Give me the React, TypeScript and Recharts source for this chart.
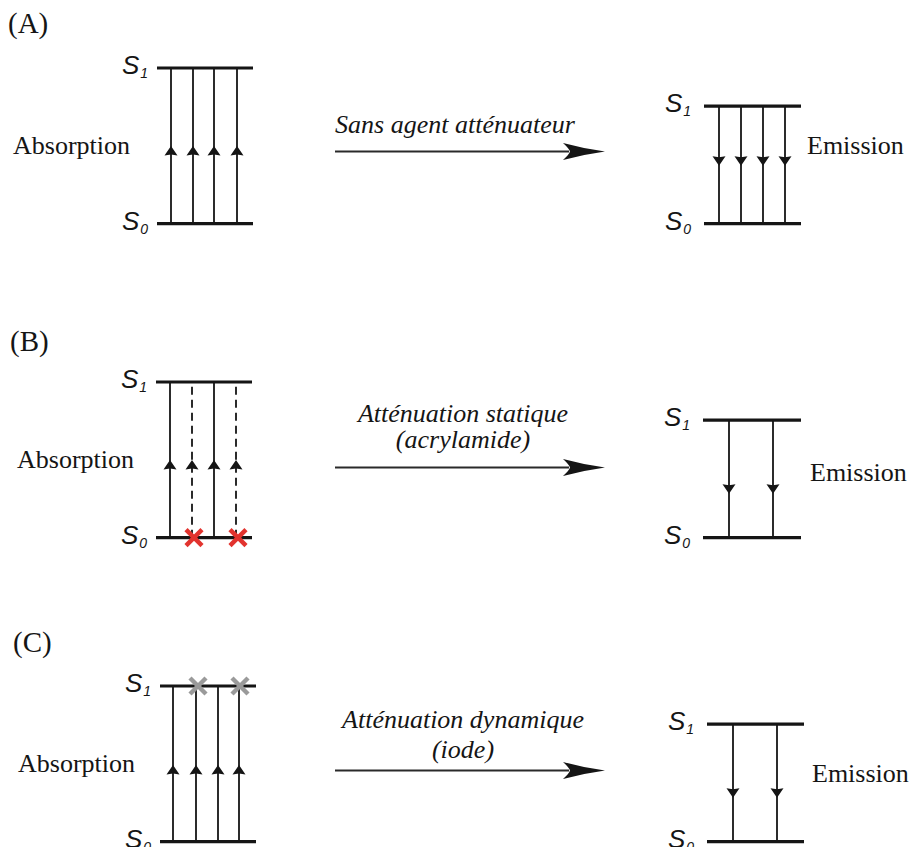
import React from 'react';
import { ScatterChart, Scatter, XAxis, YAxis, ReferenceLine } from 'recharts';

// ---- energies (S0 = 0, S1 absorption = 1, relaxed S1 for emission) ----
const S0 = 0;
const S1_ABS = 1;
const S1_EM = 0.755;

// ---- panel texts ----
const panelLabels = ['(A)', '(B)', '(C)'];
const captionsLine1 = ['Sans agent atténuateur', 'Atténuation statique', 'Atténuation dynamique'];
const captionsLine2 = ['', '(acrylamide)', '(iode)'];
const absorptionText = 'Absorption';
const emissionText = 'Emission';
const levelSubscripts = ['1', '0'];

// ---- horizontal layout (figure x units) ----
const absLevelStart = [157, 156, 160];
const absLevelEnd = [253, 252, 256];
const emLevelStart = [704, 703, 707];
const emLevelEnd = [801, 801, 804];

const absTransitionsA = [171, 193, 214, 237];
const absTransitionsB = [170, 192, 214, 236];
const absTransitionsC = [173, 196, 218, 239];
const absDashedA = [false, false, false, false];
const absDashedB = [false, true, false, true];
const absDashedC = [false, false, false, false];

const emTransitionsA = [719, 741, 763, 785];
const emTransitionsB = [729, 773];
const emTransitionsC = [733, 777];

const staticQuenchX = [194, 238]; // red crosses on S0 (panel B)
const dynamicQuenchX = [198, 240]; // grey crosses on S1 (panel C)

// ---- positions of arrowheads and labels (energy units) ----
const absArrowEnergy = [0.463, 0.463, 0.457];
const emArrowEnergy = [0.408, 0.318, 0.318];
const absLabelX = [13, 17, 18];
const absLabelEnergy = [0.45, 0.45, 0.45];
const emLabelX = [807, 810, 812];
const emLabelEnergy = [0.45, 0.367, 0.386];
const panelLabelX = [8, 10, 13];
const panelLabelEnergy = [1.225, 1.199, 1.218];
const captionX = [455, 463, 463];
const caption1Energy = [0.585, 0.746, 0.733];
const caption2Energy = [0, 0.579, 0.54];
const bigArrowStartX = [335, 335, 335];
const bigArrowTipX = [605, 605, 605];
const bigArrowEnergy = [0.463, 0.45, 0.457];

// ---- chart frame ----
const Y_MAX = 1.437;
const Y_MIN = -0.6;
const CHART_W = 912;
const CHART_H = 317;
const panelTop = [0, 314, 618];

const SERIF = "'Liberation Serif', 'Times New Roman', serif";
const SANS = "'Liberation Sans', Arial, sans-serif";
const INK = '#151515';

const absTransitions = [absTransitionsA, absTransitionsB, absTransitionsC];
const absDashed = [absDashedA, absDashedB, absDashedC];
const emTransitions = [emTransitionsA, emTransitionsB, emTransitionsC];

const TextShape = (p: any) => {
  const d = p.payload;
  return (
    <text
      x={p.cx}
      y={p.cy}
      textAnchor={d.anchor}
      fontFamily={SERIF}
      fontSize={d.size}
      fontStyle={d.italic ? 'italic' : 'normal'}
      fill={INK}
    >
      {d.text}
    </text>
  );
};

const LevelLabelShape = (p: any) => (
  <text x={p.cx} y={p.cy} dy={6} fontFamily={SANS} fontStyle="italic" fill={INK}>
    <tspan fontSize={26}>S</tspan>
    <tspan fontSize={14} dx={1} dy={4}>
      {p.payload.sub}
    </tspan>
  </text>
);

const UpHead = (p: any) => (
  <path
    d={`M${p.cx},${p.cy - 5.5} L${p.cx + 6.5},${p.cy + 4} L${p.cx},${p.cy + 3} L${p.cx - 6.5},${p.cy + 4} Z`}
    fill={INK}
  />
);

const DownHead = (p: any) => (
  <path
    d={`M${p.cx},${p.cy + 5.5} L${p.cx + 6.5},${p.cy - 4} L${p.cx},${p.cy - 3} L${p.cx - 6.5},${p.cy - 4} Z`}
    fill={INK}
  />
);

const BigHead = (p: any) => (
  <path
    d={`M${p.cx},${p.cy} Q${p.cx - 22},${p.cy - 3} ${p.cx - 42},${p.cy - 8.5} Q${p.cx - 36},${p.cy - 3} ${p.cx - 35},${p.cy} Q${p.cx - 36},${p.cy + 3} ${p.cx - 42},${p.cy + 8.5} Q${p.cx - 22},${p.cy + 3} ${p.cx},${p.cy} Z`}
    fill={INK}
  />
);

const makeCross = (color: string) => (p: any) => (
  <g stroke={color} strokeWidth={4.5}>
    <line x1={p.cx - 8} y1={p.cy - 8} x2={p.cx + 8} y2={p.cy + 8} />
    <line x1={p.cx - 8} y1={p.cy + 8} x2={p.cx + 8} y2={p.cy - 8} />
  </g>
);
const RedCross = makeCross('#e2332e');
const GreyCross = makeCross('#9a9a9a');

function Panel({ i }: { i: number }) {
  const absT = absTransitions[i];
  const emT = emTransitions[i];

  const levels = [
    { x1: absLevelStart[i], x2: absLevelEnd[i], y: S1_ABS },
    { x1: absLevelStart[i], x2: absLevelEnd[i], y: S0 },
    { x1: emLevelStart[i], x2: emLevelEnd[i], y: S1_EM },
    { x1: emLevelStart[i], x2: emLevelEnd[i], y: S0 },
  ];

  const levelLabels = [
    { x: absLevelStart[i] - 35, y: S1_ABS, sub: levelSubscripts[0] },
    { x: absLevelStart[i] - 35, y: S0, sub: levelSubscripts[1] },
    { x: emLevelStart[i] - 39, y: S1_EM, sub: levelSubscripts[0] },
    { x: emLevelStart[i] - 39, y: S0, sub: levelSubscripts[1] },
  ];

  const upHeads = absT.map((x) => ({ x, y: absArrowEnergy[i] }));
  const downHeads = emT.map((x) => ({ x, y: emArrowEnergy[i] }));

  const texts: any[] = [
    { x: panelLabelX[i], y: panelLabelEnergy[i], text: panelLabels[i], size: 29, anchor: 'start', italic: false },
    { x: absLabelX[i], y: absLabelEnergy[i], text: absorptionText, size: 26, anchor: 'start', italic: false },
    { x: emLabelX[i], y: emLabelEnergy[i], text: emissionText, size: 26, anchor: 'start', italic: false },
    { x: captionX[i], y: caption1Energy[i], text: captionsLine1[i], size: 26, anchor: 'middle', italic: true },
  ];
  if (captionsLine2[i]) {
    texts.push({ x: captionX[i], y: caption2Energy[i], text: captionsLine2[i], size: 26, anchor: 'middle', italic: true });
  }

  const redCrosses = i === 1 ? staticQuenchX.map((x) => ({ x, y: S0 })) : [];
  const greyCrosses = i === 2 ? dynamicQuenchX.map((x) => ({ x, y: S1_ABS })) : [];

  return (
    <div style={{ position: 'absolute', left: 0, top: panelTop[i] }}>
      <ScatterChart width={CHART_W} height={CHART_H} margin={{ top: 0, right: 0, bottom: 0, left: 0 }}>
        <XAxis type="number" dataKey="x" domain={[0, CHART_W]} hide allowDataOverflow />
        <YAxis type="number" dataKey="y" domain={[Y_MIN, Y_MAX]} hide allowDataOverflow />

        {absT.map((x, k) => (
          <ReferenceLine
            key={`a${k}`}
            segment={[{ x, y: S0 }, { x, y: S1_ABS }]}
            stroke={INK}
            strokeWidth={1.8}
            strokeDasharray={absDashed[i][k] ? '8 5' : undefined}
            ifOverflow="visible"
          />
        ))}
        {emT.map((x, k) => (
          <ReferenceLine
            key={`e${k}`}
            segment={[{ x, y: S1_EM }, { x, y: S0 }]}
            stroke={INK}
            strokeWidth={1.8}
            ifOverflow="visible"
          />
        ))}
        {levels.map((l, k) => (
          <ReferenceLine
            key={`l${k}`}
            segment={[{ x: l.x1, y: l.y }, { x: l.x2, y: l.y }]}
            stroke={INK}
            strokeWidth={3.2}
            ifOverflow="visible"
          />
        ))}
        <ReferenceLine
          segment={[
            { x: bigArrowStartX[i], y: bigArrowEnergy[i] },
            { x: bigArrowTipX[i] - 36, y: bigArrowEnergy[i] },
          ]}
          stroke="#2a2a2a"
          strokeWidth={2}
          ifOverflow="visible"
        />

        <Scatter data={[{ x: bigArrowTipX[i], y: bigArrowEnergy[i] }]} shape={BigHead} isAnimationActive={false} />
        <Scatter data={upHeads} shape={UpHead} isAnimationActive={false} />
        <Scatter data={downHeads} shape={DownHead} isAnimationActive={false} />
        <Scatter data={redCrosses} shape={RedCross} isAnimationActive={false} />
        <Scatter data={greyCrosses} shape={GreyCross} isAnimationActive={false} />
        <Scatter data={levelLabels} shape={LevelLabelShape} isAnimationActive={false} />
        <Scatter data={texts} shape={TextShape} isAnimationActive={false} />
      </ScatterChart>
    </div>
  );
}

export default function App() {
  return (
    <div
      style={{
        position: 'absolute',
        left: 0,
        top: 0,
        width: 912,
        height: 847,
        overflow: 'hidden',
        background: '#ffffff',
      }}
    >
      {[0, 1, 2].map((i) => (
        <Panel key={i} i={i} />
      ))}
    </div>
  );
}
